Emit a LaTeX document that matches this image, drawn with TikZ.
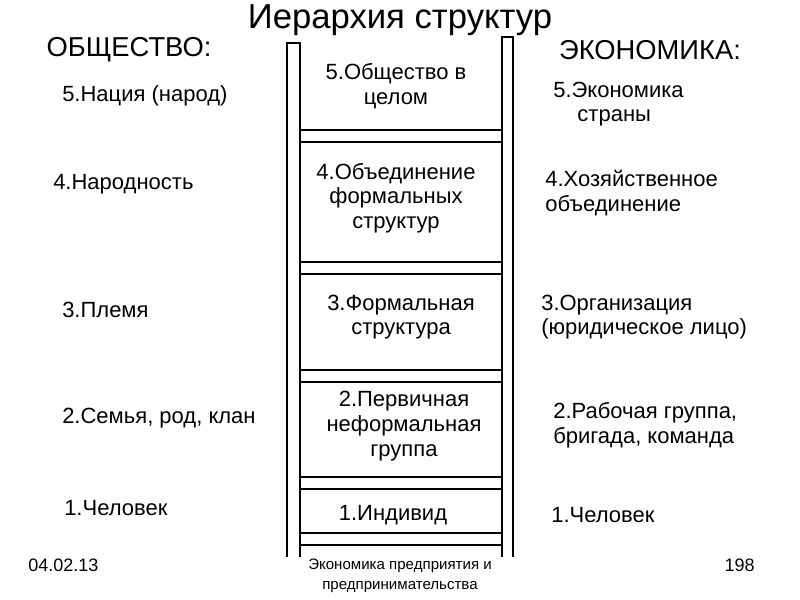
\documentclass[tikz,border=0pt]{standalone}
\usepackage{fontspec}
\setmainfont{Liberation Sans}
\begin{document}
\begin{tikzpicture}[x=0.75pt,y=-0.75pt,
  txt/.style={font=\fontsize{16.5}{18.5}\selectfont,inner sep=0pt},
  rail/.style={draw=black,line width=1.1pt,fill=white},
  rung/.style={draw=black,line width=1.1pt}]
\useasboundingbox (0,0) rectangle (800,600);
% rails
\draw[rail] (287,557) -- (287,43) -- (300,43) -- (300,557);
\draw[rail] (502,557) -- (502,37) -- (513,37) -- (513,557);
\foreach \a/\b in {130/142,262/274,370/382,477/489,533/545}{
  \draw[rung] (300,\a) -- (502,\a);
  \draw[rung] (300,\b) -- (502,\b);
}
\node[inner sep=0pt,font=\fontsize{26}{30}\selectfont] (title) at (400,20) {Иерархия структур};
\node[txt,font=\fontsize{20.5}{24}\selectfont] (ob) at (129,50) {ОБЩЕСТВО:};
\node[txt,font=\fontsize{20.5}{24}\selectfont] (ek) at (650,50) {ЭКОНОМИКА:};
% left
\node[txt,anchor=west] (l5) at (62,96) {5.Нация (народ)};
\node[txt,anchor=west] (l4) at (53,184) {4.Народность};
\node[txt,anchor=west] (l3) at (62,310) {3.Племя};
\node[txt,anchor=west] (l2) at (62,418) {2.Семья, род, клан};
\node[txt,anchor=west] (l1) at (64,508) {1.Человек};
% center
\node[txt,align=center] (c5) at (396,86) {5.Общество в\\целом};
\node[txt,align=center] (c4) at (396,198) {4.Объединение\\формальных\\структур};
\node[txt,align=center] (c3) at (401,317) {3.Формальная\\структура};
\node[txt,align=center] (c2) at (404,426) {2.Первичная\\неформальная\\группа};
\node[txt] (c1) at (393,515) {1.Индивид};
% right
\node[txt,align=left,anchor=west] (r5) at (553,104) {5.Экономика\\\hspace*{1.1em}страны};
\node[txt,align=left,anchor=west] (r4) at (545,193) {4.Хозяйственное\\объединение};
\node[txt,align=left,anchor=west] (r3) at (541,317) {3.Организация\\(юридическое лицо)};
\node[txt,align=left,anchor=west] (r2) at (553,425) {2.Рабочая группа,\\бригада, команда};
\node[txt,anchor=west] (r1) at (551,515) {1.Человек};
% footer
\node[inner sep=0pt,anchor=west,font=\fontsize{13.5}{15}\selectfont] (date) at (28,565) {04.02.13};
\node[inner sep=0pt,anchor=east,font=\fontsize{13.5}{15}\selectfont] (pg) at (755,565) {198};
\node[fill=white,inner sep=2pt,align=center,font=\fontsize{11.3}{15}\selectfont] (foot) at (400,576) {Экономика предприятия и\\предпринимательства};
\end{tikzpicture}
\end{document}
